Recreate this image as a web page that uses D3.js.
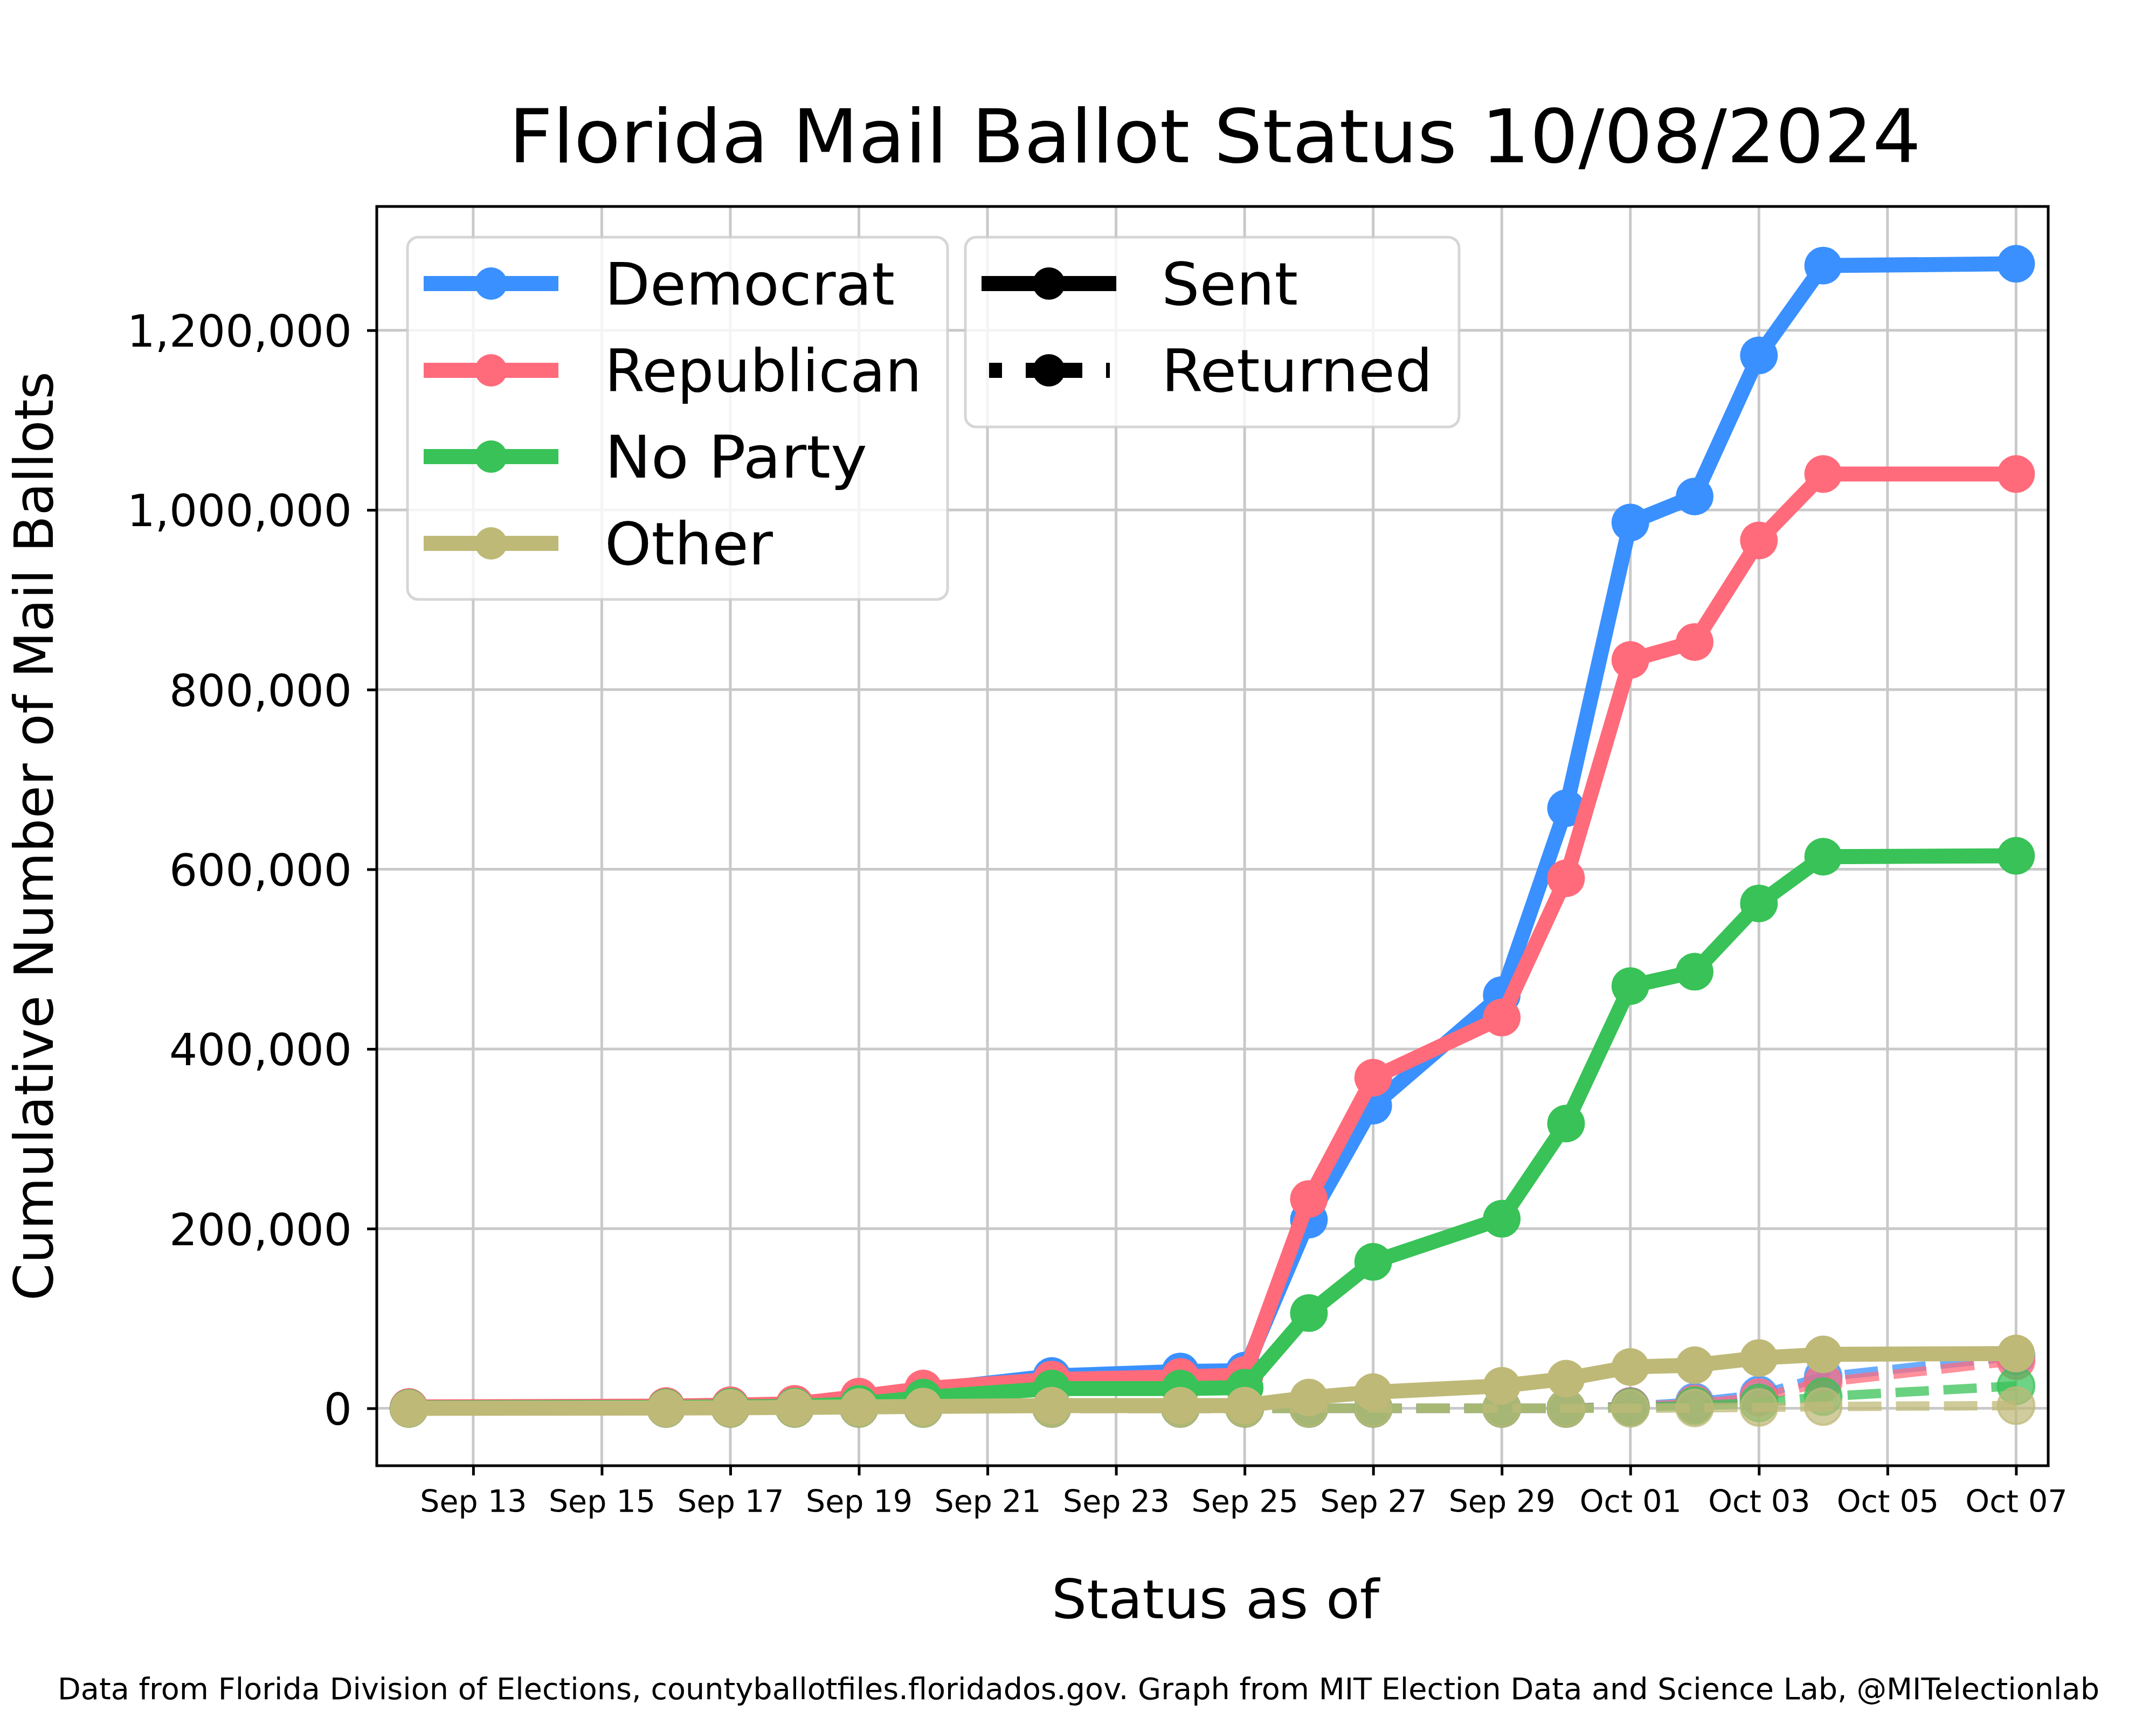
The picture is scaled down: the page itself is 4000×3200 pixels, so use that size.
<!DOCTYPE html>
<html>
<head>
<meta charset="utf-8">
<script src="https://cdn.jsdelivr.net/npm/d3@7"></script>
<style>
  html, body { margin: 0; padding: 0; background: #ffffff; }
  text { font-family: "DejaVu Sans", "Liberation Sans", sans-serif; fill: #000; }
</style>
</head>
<body>
<script>
// ---------------- DATA ----------------
const dates = ["2024-09-12","2024-09-16","2024-09-17","2024-09-18","2024-09-19","2024-09-20",
               "2024-09-22","2024-09-24","2024-09-25","2024-09-26","2024-09-27","2024-09-29",
               "2024-09-30","2024-10-01","2024-10-02","2024-10-03","2024-10-04","2024-10-07"];

const parties = ["Democrat", "Republican", "No Party", "Other"];
const partyColors = ["#3a90ff", "#ff6b7b", "#38c257", "#bfb978"];

const demSent = [1000, 2000, 3000, 4000, 11000, 20000, 36000, 41000, 42000, 210000, 337000, 460000, 668000, 986000, 1015000, 1172000, 1272000, 1274000];
const repSent = [1500, 2500, 3500, 5000, 13000, 22000, 32000, 35000, 37000, 233000, 368000, 435000, 590000, 833000, 853000, 966000, 1040000, 1040000];
const npaSent = [500, 1000, 1500, 2000, 5000, 12000, 22000, 22000, 23000, 106000, 163000, 211000, 317000, 470000, 486000, 562000, 614000, 615000];
const othSent = [0, 300, 500, 1000, 1500, 2000, 3000, 3000, 3000, 12000, 18000, 25000, 33000, 46000, 48000, 56000, 60000, 61000];

const demRet = [0, 0, 0, 0, 0, 0, 0, 0, 0, 0, 0, 0, 0, 2000, 7000, 15000, 35000, 58000];
const repRet = [0, 0, 0, 0, 0, 0, 0, 0, 0, 0, 0, 0, 0, 2000, 5000, 12000, 29000, 53000];
const npaRet = [0, 0, 0, 0, 0, 0, 0, 0, 0, 0, 0, 0, 0, 1000, 3000, 6000, 13000, 25000];
const othRet = [0, 0, 0, 0, 0, 0, 0, 0, 0, 0, 0, 0, 0, 0, 500, 1000, 2000, 3000];

const statusLabels = ["Sent", "Returned"];

const xTickDates = ["2024-09-13","2024-09-15","2024-09-17","2024-09-19","2024-09-21","2024-09-23",
                    "2024-09-25","2024-09-27","2024-09-29","2024-10-01","2024-10-03","2024-10-05","2024-10-07"];
const yTicks = [0, 200000, 400000, 600000, 800000, 1000000, 1200000];

const titleText = "Florida Mail Ballot Status 10/08/2024";
const xLabelText = "Status as of";
const yLabelText = "Cumulative Number of Mail Ballots";
const footerText = "Data from Florida Division of Elections, countyballotfiles.floridados.gov. Graph from MIT Election Data and Science Lab, @MITelectionlab";

// ---------------- LAYOUT ----------------
const W = 4000, H = 3200;
const plot = { left: 699, right: 3800, top: 383, bottom: 2719 };
const parseDate = s => { const [a,b,c] = s.split("-").map(Number); return new Date(Date.UTC(a, b-1, c)); };

const x = d3.scaleUtc()
  .domain([new Date(Date.UTC(2024, 8, 11, 12)), new Date(Date.UTC(2024, 9, 7, 12))])
  .range([plot.left, plot.right]);
const y = d3.scaleLinear()
  .domain([-63900, 1337800])
  .range([plot.bottom, plot.top]);

const svg = d3.select("body").append("svg")
  .attr("width", W).attr("height", H)
  .attr("viewBox", `0 0 ${W} ${H}`);

svg.append("rect").attr("width", W).attr("height", H).attr("fill", "#fff");

// ---------------- GRID ----------------
const grid = svg.append("g");
const GRID_COLOR = "#c9c9c9";
grid.selectAll("line.vx").data(xTickDates.map(parseDate)).join("line")
  .attr("x1", d => x(d)).attr("x2", d => x(d))
  .attr("y1", plot.top).attr("y2", plot.bottom)
  .attr("stroke", GRID_COLOR).attr("stroke-width", 5);
grid.selectAll("line.hy").data(yTicks).join("line")
  .attr("x1", plot.left).attr("x2", plot.right)
  .attr("y1", d => y(d)).attr("y2", d => y(d))
  .attr("stroke", GRID_COLOR).attr("stroke-width", 5);

// ---------------- SERIES ----------------
const sentSeries = [demSent, repSent, npaSent, othSent];
const retSeries = [demRet, repRet, npaRet, othRet];
const dateObjs = dates.map(parseDate);
const toPts = arr => arr.map((v, i) => ({ date: dateObjs[i], v }));

const line = d3.line().x(d => x(d.date)).y(d => y(d.v));

// Returned (dashed, translucent) drawn first
retSeries.forEach((arr, i) => {
  const g = svg.append("g");
  const pts = toPts(arr);
  g.append("path").datum(pts)
    .attr("d", line)
    .attr("fill", "none")
    .attr("stroke", partyColors[i])
    .attr("stroke-opacity", 0.75)
    .attr("stroke-width", 17.5)
    .attr("stroke-dasharray", "62,27")
    .attr("stroke-linejoin", "round")
    .attr("stroke-linecap", "butt");
  g.selectAll("circle").data(pts).join("circle")
    .attr("cx", d => x(d.date)).attr("cy", d => y(d.v)).attr("r", 34)
    .attr("fill", partyColors[i]).attr("fill-opacity", 0.72)
    .attr("stroke", partyColors[i]).attr("stroke-opacity", 0.72).attr("stroke-width", 4);
});

// Sent (solid)
sentSeries.forEach((arr, i) => {
  const g = svg.append("g");
  const pts = toPts(arr);
  g.append("path").datum(pts)
    .attr("d", line)
    .attr("fill", "none")
    .attr("stroke", partyColors[i])
    .attr("stroke-width", 27.8)
    .attr("stroke-linejoin", "round")
    .attr("stroke-linecap", "square");
  g.selectAll("circle").data(pts).join("circle")
    .attr("cx", d => x(d.date)).attr("cy", d => y(d.v)).attr("r", 35)
    .attr("fill", partyColors[i]);
});

// ---------------- AXES ----------------
const xAxis = d3.axisBottom(x)
  .tickValues(xTickDates.map(parseDate))
  .tickFormat(d3.utcFormat("%b %d"))
  .tickSize(18);
const gx = svg.append("g").attr("transform", `translate(0,${plot.bottom})`).call(xAxis);
gx.select(".domain").remove();
gx.selectAll(".tick line").attr("stroke", "#000").attr("stroke-width", 5);
gx.selectAll(".tick text")
  .attr("y", 86).attr("dy", 0)
  .attr("fill", "#000")
  .style("font-family", "'DejaVu Sans', sans-serif")
  .style("font-size", "57px");

const yAxis = d3.axisLeft(y)
  .tickValues(yTicks)
  .tickFormat(d3.format(","))
  .tickSize(18);
const gy = svg.append("g").attr("transform", `translate(${plot.left},0)`).call(yAxis);
gy.select(".domain").remove();
gy.selectAll(".tick line").attr("stroke", "#000").attr("stroke-width", 5);
gy.selectAll(".tick text")
  .attr("x", -46).attr("y", 30).attr("dy", 0)
  .attr("fill", "#000")
  .style("font-family", "'DejaVu Sans', sans-serif")
  .style("font-size", "82px");

// Spines
svg.append("rect")
  .attr("x", plot.left).attr("y", plot.top)
  .attr("width", plot.right - plot.left).attr("height", plot.bottom - plot.top)
  .attr("fill", "none").attr("stroke", "#000").attr("stroke-width", 5);

// ---------------- TEXTS ----------------
svg.append("text").text(titleText)
  .attr("x", 2254).attr("y", 301).attr("text-anchor", "middle")
  .attr("textLength", 2620).attr("lengthAdjust", "spacingAndGlyphs")
  .style("font-size", "137px");

svg.append("text").text(xLabelText)
  .attr("x", 2255).attr("y", 3002).attr("text-anchor", "middle")
  .attr("textLength", 608).attr("lengthAdjust", "spacingAndGlyphs")
  .style("font-size", "100px");

svg.append("text").text(yLabelText)
  .attr("transform", "translate(98,1551) rotate(-90)")
  .attr("text-anchor", "middle")
  .attr("textLength", 1724).attr("lengthAdjust", "spacingAndGlyphs")
  .style("font-size", "100px");

svg.append("text").text(footerText)
  .attr("x", 2001).attr("y", 3152).attr("text-anchor", "middle")
  .attr("textLength", 3788).attr("lengthAdjust", "spacingAndGlyphs")
  .style("font-size", "55px");

// ---------------- LEGENDS ----------------
const rowY = [526, 687, 847, 1008];
const partyLabelWidths = [538, 588, 487, 312];
const statusLabelWidths = [253, 503];

function legendBox(x0, y0, w, h) {
  svg.append("rect")
    .attr("x", x0).attr("y", y0).attr("width", w).attr("height", h)
    .attr("rx", 20).attr("ry", 20)
    .attr("fill", "#fff").attr("fill-opacity", 0.8)
    .attr("stroke", "#cccccc").attr("stroke-opacity", 0.8).attr("stroke-width", 5);
}

// Party legend
legendBox(756, 440, 1002, 672);
parties.forEach((p, i) => {
  const g = svg.append("g");
  g.append("line").attr("x1", 786).attr("x2", 1036).attr("y1", rowY[i]).attr("y2", rowY[i])
    .attr("stroke", partyColors[i]).attr("stroke-width", 27.8);
  g.append("circle").attr("cx", 911).attr("cy", rowY[i]).attr("r", 30).attr("fill", partyColors[i]);
  g.append("text").text(p).attr("x", 1122).attr("y", rowY[i] + 39)
    .attr("textLength", partyLabelWidths[i]).attr("lengthAdjust", "spacingAndGlyphs")
    .style("font-size", "108px");
});

// Status legend
legendBox(1791, 440, 916, 352);
statusLabels.forEach((s, i) => {
  const g = svg.append("g");
  const ln = g.append("line").attr("x1", 1821).attr("x2", 2071).attr("y1", rowY[i]).attr("y2", rowY[i])
    .attr("stroke", "#000").attr("stroke-width", 27.8);
  if (i === 1) ln.attr("stroke-dasharray", "0,14,24,44,105,44,7,60");
  g.append("circle").attr("cx", 1946).attr("cy", rowY[i]).attr("r", 30).attr("fill", "#000");
  g.append("text").text(s).attr("x", 2155).attr("y", rowY[i] + 39)
    .attr("textLength", statusLabelWidths[i]).attr("lengthAdjust", "spacingAndGlyphs")
    .style("font-size", "108px");
});
</script>
</body>
</html>
